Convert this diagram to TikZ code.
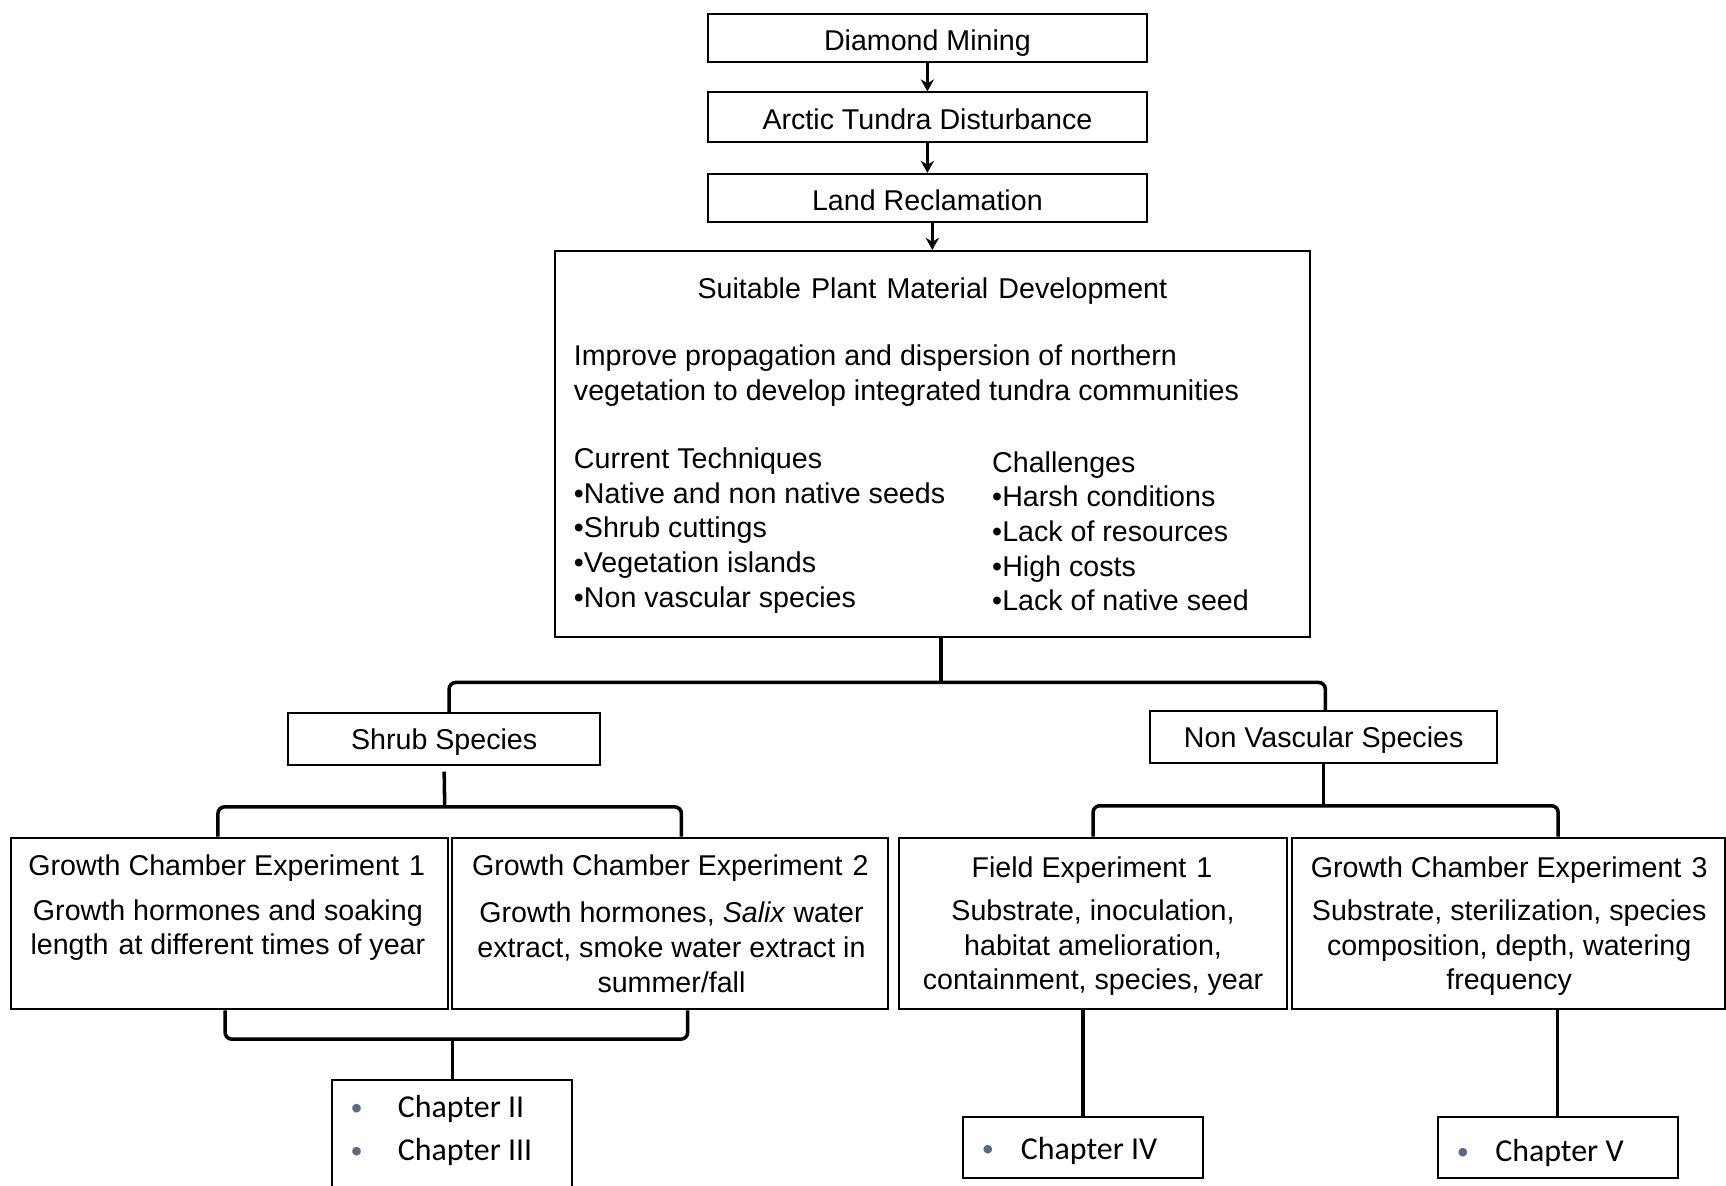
\documentclass[tikz,border=0pt]{standalone}
\usepackage{fontspec}
\setmainfont{Liberation Sans}
\newfontfamily\calibri{Carlito}
\usetikzlibrary{arrows.meta}
\definecolor{bulletgrey}{RGB}{90,105,135}
\begin{document}
\begin{tikzpicture}[x=0.5pt,y=-0.5pt,
  box/.style={draw, line width=0.9pt, inner sep=0pt, align=center, text depth=0pt,
    font=\fontsize{13}{15.75}\selectfont},
  topbox/.style={box, text height=11pt},
  txt/.style={inner sep=0pt, align=center, font=\fontsize{13}{15.75}\selectfont},
  ltxt/.style={inner sep=0pt, align=left, anchor=west, font=\fontsize{13}{15.75}\selectfont},
  chtxt/.style={inner sep=0pt, anchor=west, font=\calibri\fontsize{14.5}{17}\selectfont},
  chbul/.style={inner sep=0pt, text=bulletgrey, font=\calibri\fontsize{11}{13}\selectfont},
  conn/.style={line width=1.6pt, rounded corners=3pt},
  arr/.style={line width=1.1pt, -{Stealth[length=5.5pt,width=6pt]}}]
\clip (0,0) rectangle (1568,1077);
\fill[white] (0,0) rectangle (1568,1077);

% top chain
\node[topbox, minimum width=199.5pt, minimum height=21.5pt] (dm) at (842.5,34.5) {Diamond Mining};
\node[topbox, minimum width=199.5pt, minimum height=22.5pt] (atd) at (842.5,106.5) {Arctic Tundra Disturbance};
\node[topbox, minimum width=199.5pt, minimum height=22pt] (lr) at (842.5,180) {Land Reclamation};
\node[box, minimum width=343pt, minimum height=175.5pt] (spmd) at (847,403.5) {};

\node[txt] (spt) at (847,264) {Suitable\kern1pt\ Plant\kern1pt\ Material\kern1pt\ Development};
\node[ltxt] (imp) at (521,341.5) {Improve propagation and dispersion of northern\\vegetation to develop integrated tundra communities};
\node[ltxt] (cur) at (521,482) {Current Techniques\\\textbullet Native and non native seeds\\\textbullet Shrub cuttings\\\textbullet Vegetation islands\\\textbullet Non vascular species};
\node[ltxt] (cha) at (901,482.5) {Challenges\\\textbullet Harsh conditions\\\textbullet Lack of resources\\\textbullet High costs\\\textbullet Lack of native seed};

\draw[arr] (dm.south) -- (atd.north);
\draw[arr] (atd.south) -- (lr.north);
\draw[arr] (lr.south -| spmd.north) -- (spmd.north);

% second level
\node[box, minimum width=141.5pt, minimum height=23.5pt] (shrub) at (403.5,671.5) {Shrub Species};
\node[box, minimum width=157.5pt, minimum height=23.5pt] (nv) at (1202.5,669.5) {Non Vascular Species};

\coordinate (j1) at (855,620);
\draw[conn] (spmd.south -| j1) -- (j1);
\draw[conn] ([xshift=2.25pt]shrub.north) |- (j1) -| ([xshift=0.75pt]nv.north);

% experiment boxes
\node[box, minimum width=198.5pt, minimum height=78pt] (gc1) at (208.5,839) {};
\node[box, minimum width=198pt, minimum height=78pt] (gc2) at (609,839) {};
\node[box, minimum width=176pt, minimum height=78pt] (fe1) at (993,839) {};
\node[box, minimum width=196.5pt, minimum height=78pt] (gc3) at (1370.5,839) {};

\node[txt] (gc1t) at (206,789) {Growth Chamber Experiment\kern1pt\ 1};
\node[txt] (gc1b) at (207,845) {Growth hormones and soaking\\length\kern1pt\ at different times of year};
\node[txt] (gc2t) at (609,789) {Growth Chamber Experiment\kern1pt\ 2};
\node[txt] (gc2b) at (610,860.5) {Growth hormones, \textit{Salix} water\\extract, smoke water extract in\\summer/fall};
\node[txt] (fe1t) at (992,790) {Field Experiment\kern1pt\ 1};
\node[txt] (fe1b) at (993,861) {Substrate, inoculation,\\habitat amelioration,\\containment, species, year};
\node[txt] (gc3t) at (1371,790) {Growth Chamber Experiment\kern1pt\ 3};
\node[txt] (gc3b) at (1371,861) {Substrate, sterilization, species\\composition, depth, watering\\frequency};

\coordinate (j2) at (404,733);
\draw[conn] ([yshift=-2.5pt]shrub.south) -- (j2);
\draw[conn] ([xshift=-5.25pt]gc1.north) |- (j2) -| ([xshift=5pt]gc2.north);

\coordinate (j4) at (1202.5,732);
\draw[conn] (nv.south) -- (j4);
\draw[conn] (fe1.north) |- (j4) -| ([xshift=22.5pt]gc3.north);

% chapter boxes
\node[box, minimum width=109pt, minimum height=59.5pt] (ch23) at (411,1040.5) {};
\node[box, minimum width=109pt, minimum height=27.5pt] (ch4) at (984,1042.5) {};
\node[box, minimum width=109pt, minimum height=27.5pt] (ch5) at (1415,1042.5) {};

\node[chbul] (b2) at (324,1008) {\textbullet};
\node[chtxt] (c2) at (361,1007.5) {Chapter II};
\node[chbul] (b3) at (324,1047) {\textbullet};
\node[chtxt] (c3) at (361,1046.5) {Chapter III};
\node[chbul] (b4) at (897.5,1046) {\textbullet};
\node[chtxt] (c4) at (927,1045.5) {Chapter IV};
\node[chbul] (b5) at (1329,1048) {\textbullet};
\node[chtxt] (c5) at (1358,1047.5) {Chapter V};

\coordinate (j3) at (411,944);
\draw[conn] ([xshift=-2pt]gc1.south) |- (j3) -| ([xshift=7.85pt]gc2.south);
\draw[conn] (j3) -- (ch23.north);
\draw[conn] (fe1.south -| ch4.north) -- (ch4.north);
\draw[conn] (gc3.south -| ch5.north) -- (ch5.north);
\end{tikzpicture}
\end{document}
